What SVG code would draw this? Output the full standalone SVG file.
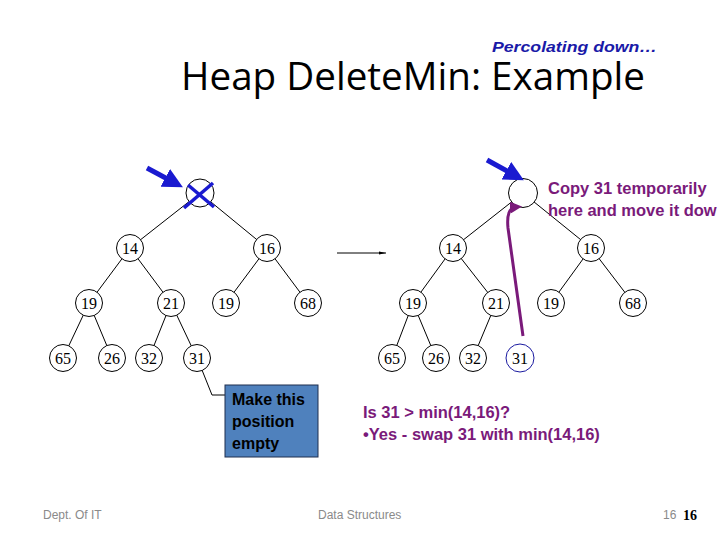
<svg xmlns="http://www.w3.org/2000/svg" width="720" height="540" viewBox="0 0 720 540">
<defs>
<style>
.node circle{fill:#fff;stroke:#000;stroke-width:1}
.node text{font-family:"Liberation Serif",serif;font-size:16px;text-anchor:middle;fill:#000}
.edge{stroke:#000;stroke-width:1}
.purple{font-family:"Liberation Sans",Arial,sans-serif;font-weight:bold;fill:#7a1a7a;font-size:16.5px}
.foot{font-family:"Liberation Sans",Arial,sans-serif;font-size:12px;fill:#8a8a8a}
</style>
<marker id="bluehead" markerWidth="4" markerHeight="4" refX="2.2" refY="2" orient="auto" markerUnits="strokeWidth">
<path d="M0,0 L4,2 L0,4 z" fill="#1a1ad0"/>
</marker>
<marker id="purplehead" markerWidth="4" markerHeight="4" refX="2" refY="2" orient="auto" markerUnits="strokeWidth">
<path d="M0,0 L4,2 L0,4 z" fill="#7a1a7a"/>
</marker>
<marker id="smallhead" markerWidth="7" markerHeight="5" refX="7" refY="2.5" orient="auto" markerUnits="userSpaceOnUse">
<path d="M0,1 L7,2.5 L0,4 z" fill="#000"/>
</marker>
</defs>
<rect width="720" height="540" fill="#fff"/>

<text x="492" y="52" font-family="Liberation Sans,Arial,sans-serif" font-weight="bold" font-style="italic" font-size="15.5" fill="#1a1aa8" textLength="165" lengthAdjust="spacingAndGlyphs">Percolating down…</text>
<text x="181" y="90" font-family="Open Sans,Noto Sans,sans-serif" font-size="38" fill="#000" textLength="464" lengthAdjust="spacingAndGlyphs">Heap DeleteMin: Example</text>

<g id="connectors">
<line class="edge" x1="200" y1="193" x2="130" y2="248"/>
<line class="edge" x1="200" y1="193" x2="267" y2="248"/>
<line class="edge" x1="130" y1="248" x2="89" y2="303"/>
<line class="edge" x1="130" y1="248" x2="171" y2="303"/>
<line class="edge" x1="267" y1="248" x2="226" y2="303"/>
<line class="edge" x1="267" y1="248" x2="308" y2="303"/>
<line class="edge" x1="89" y1="303" x2="63" y2="358"/>
<line class="edge" x1="89" y1="303" x2="112" y2="358"/>
<line class="edge" x1="171" y1="303" x2="149" y2="358"/>
<line class="edge" x1="171" y1="303" x2="197" y2="358"/>

<line class="edge" x1="523" y1="193" x2="453" y2="248"/>
<line class="edge" x1="523" y1="193" x2="591" y2="248"/>
<line class="edge" x1="453" y1="248" x2="413" y2="303"/>
<line class="edge" x1="453" y1="248" x2="496" y2="303"/>
<line class="edge" x1="591" y1="248" x2="551" y2="303"/>
<line class="edge" x1="591" y1="248" x2="633" y2="303"/>
<line class="edge" x1="413" y1="303" x2="392" y2="358"/>
<line class="edge" x1="413" y1="303" x2="436" y2="358"/>
<line class="edge" x1="496" y1="303" x2="473" y2="358"/>

<line class="edge" x1="337" y1="253" x2="386" y2="253" marker-end="url(#smallhead)"/>
<polyline points="202,370 212,395 225,395" fill="none" stroke="#000" stroke-width="1"/>
</g>

<g id="left-tree">
<g id="L-root" class="node"><circle cx="200" cy="193" r="14"/></g>
<g id="L14" class="node"><circle cx="130" cy="248" r="13.5"/><text x="130" y="253.5">14</text></g>
<g id="L16" class="node"><circle cx="267" cy="248" r="13.5"/><text x="267" y="253.5">16</text></g>
<g id="L19a" class="node"><circle cx="89" cy="303" r="13.5"/><text x="89" y="308.5">19</text></g>
<g id="L21" class="node"><circle cx="171" cy="303" r="13.5"/><text x="171" y="308.5">21</text></g>
<g id="L19b" class="node"><circle cx="226" cy="303" r="13.5"/><text x="226" y="308.5">19</text></g>
<g id="L68" class="node"><circle cx="308" cy="303" r="13.5"/><text x="308" y="308.5">68</text></g>
<g id="L65" class="node"><circle cx="63" cy="358" r="13.5"/><text x="63" y="363.5">65</text></g>
<g id="L26" class="node"><circle cx="112" cy="358" r="13.5"/><text x="112" y="363.5">26</text></g>
<g id="L32" class="node"><circle cx="149" cy="358" r="13.5"/><text x="149" y="363.5">32</text></g>
<g id="L31" class="node"><circle cx="197" cy="358" r="13.5"/><text x="197" y="363.5">31</text></g>
</g>

<g id="right-tree">
<g id="R-root" class="node"><circle cx="523" cy="193" r="14.5"/></g>
<g id="R14" class="node"><circle cx="453" cy="248" r="13.5"/><text x="453" y="253.5">14</text></g>
<g id="R16" class="node"><circle cx="591" cy="248" r="13.5"/><text x="591" y="253.5">16</text></g>
<g id="R19a" class="node"><circle cx="413" cy="303" r="13.5"/><text x="413" y="308.5">19</text></g>
<g id="R21" class="node"><circle cx="496" cy="303" r="13.5"/><text x="496" y="308.5">21</text></g>
<g id="R19b" class="node"><circle cx="551" cy="303" r="13.5"/><text x="551" y="308.5">19</text></g>
<g id="R68" class="node"><circle cx="633" cy="303" r="13.5"/><text x="633" y="308.5">68</text></g>
<g id="R65" class="node"><circle cx="392" cy="358" r="13.5"/><text x="392" y="363.5">65</text></g>
<g id="R26" class="node"><circle cx="436" cy="358" r="13.5"/><text x="436" y="363.5">26</text></g>
<g id="R32" class="node"><circle cx="473" cy="358" r="13.5"/><text x="473" y="363.5">32</text></g>
<g id="R31" class="node"><circle cx="520" cy="358" r="14" style="stroke:#1a1aa0"/><text x="520" y="363.5">31</text></g>
</g>

<g id="annotations">
<line x1="147" y1="168" x2="175" y2="183" stroke="#1a1ad0" stroke-width="5" marker-end="url(#bluehead)"/>
<line x1="487" y1="160" x2="516" y2="176" stroke="#1a1ad0" stroke-width="5" marker-end="url(#bluehead)"/>
<line x1="184" y1="208" x2="213" y2="183" stroke="#1a1ad0" stroke-width="3.5"/>
<line x1="188" y1="185" x2="214" y2="207" stroke="#1a1ad0" stroke-width="3.5"/>
<path d="M523,336 L508,228 Q506,208 516,207" fill="none" stroke="#7a1a7a" stroke-width="3" marker-end="url(#purplehead)"/>
</g>

<text class="purple" x="548" y="194">Copy 31 temporarily</text>
<text class="purple" x="548" y="216">here and move it dow</text>

<g id="callout">
<rect x="225" y="385" width="93" height="72" fill="#4f81bd" stroke="#1f2f4f" stroke-width="1"/>
<text font-family="Liberation Sans,Arial,sans-serif" font-size="16" font-weight="bold" fill="#000"><tspan x="232" y="405">Make this</tspan><tspan x="232" y="427">position</tspan><tspan x="232" y="449">empty</tspan></text>
</g>

<text class="purple"><tspan x="363" y="418">Is 31 &gt; min(14,16)?</tspan><tspan x="363" y="440">•Yes - swap 31 with min(14,16)</tspan></text>

<text class="foot" x="43" y="519">Dept. Of  IT</text>
<text class="foot" x="318" y="519">Data Structures</text>
<text class="foot" x="663" y="519">16</text>
<text x="683" y="520" font-family="Liberation Serif,serif" font-weight="bold" font-size="14" fill="#000">16</text>
</svg>
